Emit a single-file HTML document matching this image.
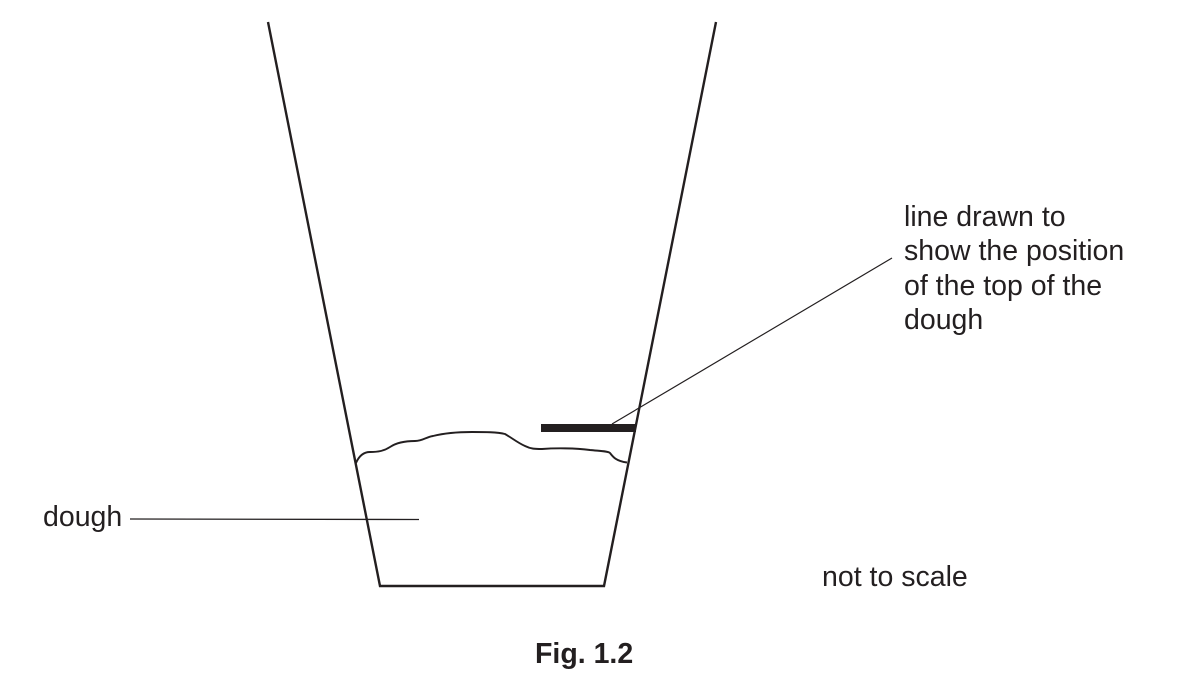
<!DOCTYPE html>
<html><head><meta charset="utf-8"><style>
html,body{margin:0;padding:0;background:#fff;width:1179px;height:676px;overflow:hidden}
svg{display:block}
text{font-family:"Liberation Sans",sans-serif;fill:#231f20;font-size:28.5px}
</style></head><body>
<svg width="1179" height="676" viewBox="0 0 1179 676" xmlns="http://www.w3.org/2000/svg">
<path d="M268 22L380 586H604L716 22" fill="none" stroke="#231f20" stroke-width="2.4"/>
<path d="M356 463C359 456 364 452 370 452C378 452 384 451 390 447C396 443 404 441 415 441C423 441 426 437 433 436C445 433 458 432 472 432C485 432 497 432 505 434C512 438 518 443 525 446C531 449 535 449 542 449C555 448 575 448 590 450C600 451 608 451 610 453C613 457 616 461 627 462.500" fill="none" stroke="#231f20" stroke-width="1.900"/>
<rect x="541" y="424" width="95" height="8" fill="#231f20"/>
<line x1="612" y1="424" x2="892" y2="258" stroke="#231f20" stroke-width="1.200"/>
<line x1="130" y1="519" x2="419" y2="519.500" stroke="#231f20" stroke-width="1.300"/>
<text x="43" y="526">dough</text>
<text x="904" y="226">line drawn to</text>
<text x="904" y="260">show the position</text>
<text x="904" y="295">of the top of the</text>
<text x="904" y="329">dough</text>
<text x="822" y="586">not to scale</text>
<text x="535" y="663" style="font-weight:bold">Fig. 1.2</text>
</svg>
</body></html>
